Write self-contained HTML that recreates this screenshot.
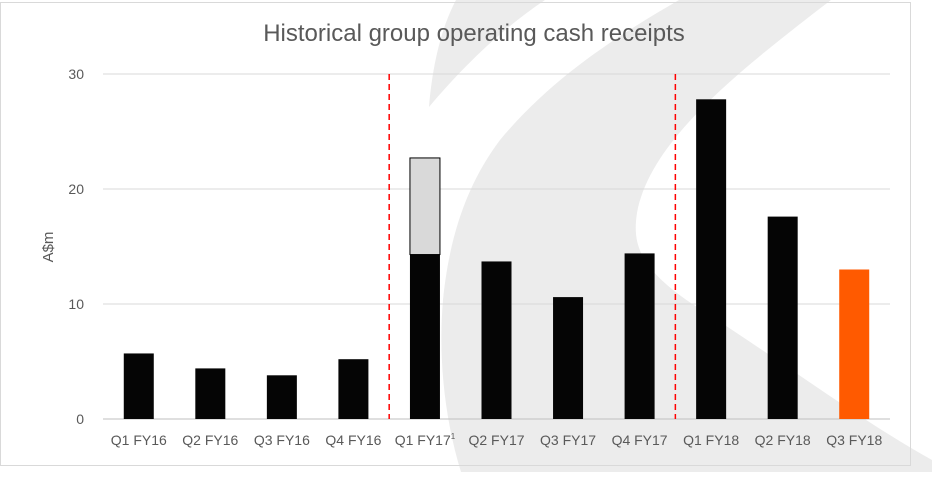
<!DOCTYPE html>
<html><head><meta charset="utf-8"><style>
body{margin:0;background:#fff;font-family:"Liberation Sans",sans-serif}
svg text{font-family:"Liberation Sans",sans-serif}
</style></head><body>
<svg id="c" width="932" height="472">
<rect x="0" y="0" width="932" height="472" fill="#fff"/>
<path d="M456,0 L545,0 C500,30 460,70 429,107 C432,70 440,30 456,0 Z" fill="#ececec"/>
<path d="M679,0 L831,0 C740,70 650,140 637,213 C632,245 640,270 697,307 C780,360 860,420 932,460 L932,472 L461,472 C445,420 438,360 443,300 C450,230 470,180 500,140 C550,80 610,40 679,0 Z" fill="#ececec"/>
<rect x="0.5" y="2.5" width="910" height="463" fill="none" stroke="#d9d9d9"/>
<text x="474" y="41" text-anchor="middle" font-size="24" fill="#595959">Historical group operating cash receipts</text>
<text transform="translate(53,247) rotate(-90)" text-anchor="middle" font-size="15" fill="#595959">A$m</text>
<g id="grid"></g><g id="bars"></g><g id="xl"></g>
</svg>
<script>
const categories=["Q1 FY16","Q2 FY16","Q3 FY16","Q4 FY16","Q1 FY17","Q2 FY17","Q3 FY17","Q4 FY17","Q1 FY18","Q2 FY18","Q3 FY18"];
const baseValues=[5.7,4.4,3.8,5.2,14.3,13.7,10.6,14.4,27.8,17.6,13.0];
const extraValues=[0,0,0,0,8.4,0,0,0,0,0,0];
const yTicks=[0,10,20,30];
const dividerAfter=[3,7];
const ns="http://www.w3.org/2000/svg";
const x0=103,x1=890,yBase=419,yPerUnit=11.5,bw=30;
const step=(x1-x0)/categories.length;
const xc=i=>x0+step*(i+0.5);
const y=v=>yBase-v*yPerUnit;
function mk(t,a,p){const e=document.createElementNS(ns,t);for(const k in a)e.setAttribute(k,a[k]);p.appendChild(e);return e;}
const g=document.getElementById('grid'),b=document.getElementById('bars'),xl=document.getElementById('xl');
yTicks.forEach(t=>{
 const l=mk('line',{x1:x0,x2:x1,y1:y(t),y2:y(t),stroke:t===0?'#bfbfbf':'#d9d9d9'},g);
 
 
 const tx=mk('text',{x:84,y:y(t)+5,'text-anchor':'end','font-size':14,fill:'#595959'},g);
 tx.textContent=t;
 
 
});
categories.forEach((c,i)=>{
 const last=i===categories.length-1;
 const r=mk('rect',{x:xc(i)-bw/2,y:y(baseValues[i]),width:bw,height:baseValues[i]*yPerUnit,fill:last?'#ff5a00':'#050505'},b);
 
 
 if(extraValues[i]>0){
  const e=mk('rect',{x:xc(i)-bw/2,y:y(baseValues[i]+extraValues[i]),width:bw,height:extraValues[i]*yPerUnit,fill:'#d9d9d9',stroke:'#000','stroke-width':1},b);
  
  
 }
 const t=mk('text',{x:xc(i),y:445,'text-anchor':'middle','font-size':14,fill:'#595959'},xl);
 t.textContent=c;
 if(i===4){const s=mk('tspan',{'font-size':8,dy:-6},t);s.textContent='1';}
 
 
});
dividerAfter.forEach(i=>{
 const xx=x0+step*(i+1);
 const l=mk('line',{x1:xx,x2:xx,y1:74,y2:419,stroke:'#ff0000','stroke-width':1.5,'stroke-dasharray':'6,4'},b);
 
 
});
</script>
</body></html>
